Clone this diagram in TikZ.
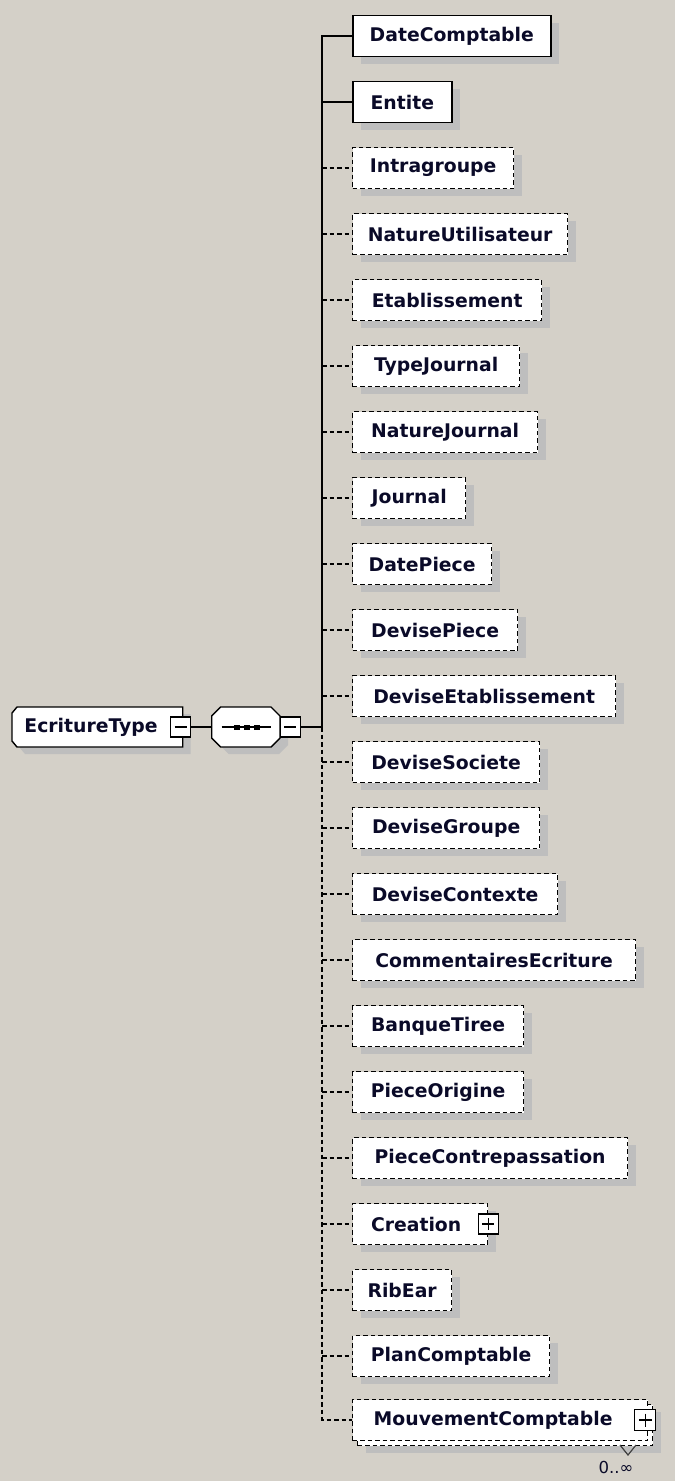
\documentclass[tikz,border=0pt]{standalone}
\usepackage{fontspec}
\setmainfont{DejaVu Sans}
\usetikzlibrary{shadows}
\definecolor{bgc}{HTML}{D4D0C8}
\definecolor{shc}{HTML}{BEBEBE}
\definecolor{txc}{RGB}{10,10,40}
\tikzset{
 elbase/.style={draw=black, fill=white, anchor=west, minimum height=41pt, inner sep=0pt,
   font=\bfseries\fontsize{18.8}{22}\selectfont, text=txc},
 elshadow/.style={drop shadow={shadow xshift=8pt, shadow yshift=-7pt, fill=shc, opacity=1}},
 req/.style={elbase, elshadow, line width=1.6pt},
 opt/.style={elbase, elshadow, line width=1.3pt, dash pattern=on 4.5pt off 3pt},
 optns/.style={elbase, line width=1.3pt, dash pattern=on 4.5pt off 3pt},
 conn/.style={line width=1.3pt},
 optconn/.style={conn, dash pattern=on 4.5pt off 3pt},
 signbox/.style={draw, fill=white, minimum size=20pt, inner sep=0pt, line width=1.3pt},
 minusbox/.style={signbox, path picture={\draw[line width=1.2pt] ([xshift=4pt]path picture bounding box.west) -- ([xshift=-4pt]path picture bounding box.east);}},
 plusbox/.style={signbox, path picture={\draw[line width=1.2pt] ([xshift=4pt]path picture bounding box.west) -- ([xshift=-4pt]path picture bounding box.east); \draw[line width=1.2pt] ([yshift=-4pt]path picture bounding box.north) -- ([yshift=4pt]path picture bounding box.south);}},
 etext/.style={font=\bfseries\fontsize{18.8}{22}\selectfont, text=txc, inner sep=0pt},
 occtext/.style={font=\fontsize{16.5}{18}\selectfont, text=txc, inner sep=0pt},
}
\begin{document}
\begin{tikzpicture}[x=1pt, y=-1pt]
\fill[bgc] (0,0) rectangle (675,1481);
\useasboundingbox (0,0) rectangle (675,1481);

% shadows of the left shapes
\begin{scope}[shift={(8,7)}]
\fill[shc] (17,707) -- (182.7,707) -- (182.7,747) -- (17,747) -- (12,741) -- (12,713) -- cycle;
\fill[shc] (220.7,707) -- (271,707) -- (280,716) -- (280,738) -- (271,747) -- (220.7,747) -- (211.7,738) -- (211.7,716) -- cycle;
\end{scope}

% EcritureType
\draw[line width=1.4pt, fill=white] (17,707) -- (182.7,707) -- (182.7,747) -- (17,747) -- (12,741) -- (12,713) -- cycle;
\node[etext] (et) at (91,727) {EcritureType};
\node[minusbox] (etm) at (180.5,727) {};

% sequence compositor
\draw[line width=1.4pt, fill=white] (220.7,707) -- (271,707) -- (280,716) -- (280,738) -- (271,747) -- (220.7,747) -- (211.7,738) -- (211.7,716) -- cycle;
\coordinate (seqW) at (211.7,727);
\draw[line width=1.2pt] (221.7,727) -- (270.7,727);
\fill (233.7,724.5) rectangle ++(6,5);
\fill (243.7,724.5) rectangle ++(6,5);
\fill (253.5,724.5) rectangle ++(6,5);
\node[minusbox] (seqm) at (290.3,727) {};
\coordinate (junc) at (322,727);

% child elements
\node[req, minimum width=198pt] (n0) at (352,36) {DateComptable};
\node[req, minimum width=99pt] (n1) at (352,102) {Entite};
\node[opt, minimum width=161pt] (n2) at (352,168) {Intragroupe};
\node[opt, minimum width=215pt] (n3) at (352,234) {NatureUtilisateur};
\node[opt, minimum width=189pt] (n4) at (352,300) {Etablissement};
\node[opt, minimum width=167pt] (n5) at (352,366) {TypeJournal};
\node[opt, minimum width=185pt] (n6) at (352,432) {NatureJournal};
\node[opt, minimum width=113pt] (n7) at (352,498) {Journal};
\node[opt, minimum width=139pt] (n8) at (352,564) {DatePiece};
\node[opt, minimum width=165pt] (n9) at (352,630) {DevisePiece};
\node[opt, minimum width=263pt] (n10) at (352,696) {DeviseEtablissement};
\node[opt, minimum width=187pt] (n11) at (352,762) {DeviseSociete};
\node[opt, minimum width=187pt] (n12) at (352,828) {DeviseGroupe};
\node[opt, minimum width=205pt] (n13) at (352,894) {DeviseContexte};
\node[opt, minimum width=283pt] (n14) at (352,960) {CommentairesEcriture};
\node[opt, minimum width=171pt] (n15) at (352,1026) {BanqueTiree};
\node[opt, minimum width=171pt] (n16) at (352,1092) {PieceOrigine};
\node[opt, minimum width=275pt] (n17) at (352,1158) {PieceContrepassation};
\node[opt, minimum width=135pt] (n18) at (352,1224) {\hspace*{-8pt}Creation};
\node[plusbox] (n18p) at (n18.east) {};
\node[opt, minimum width=99pt] (n19) at (352,1290) {RibEar};
\node[opt, minimum width=197pt] (n20) at (352,1356) {PlanComptable};
\node[opt, minimum width=295pt] (n21b) at (357,1425) {};
\node[optns, minimum width=295pt] (n21) at (352,1420) {\hspace*{-14pt}MouvementComptable};
\node[plusbox, minimum size=21pt] (n21p) at ([xshift=-3pt]n21.east) {};
\draw[line width=1.2pt, black!75] (620,1445) -- (628,1455) -- (636,1445);
\node[occtext] (occ) at (616,1467) {0..∞};

% connectors
\draw[conn] (etm.east) -- (seqW);
\draw[conn] (seqm.east) -- (junc);
\draw[conn] (junc) |- (n0.west);
\draw[conn] (junc |- n1.west) -- (n1.west);
\draw[optconn] (junc) |- (n21.west);
\foreach \k in {2,...,20} {\draw[optconn] (junc |- n\k.west) -- (n\k.west);}
\end{tikzpicture}
\end{document}
